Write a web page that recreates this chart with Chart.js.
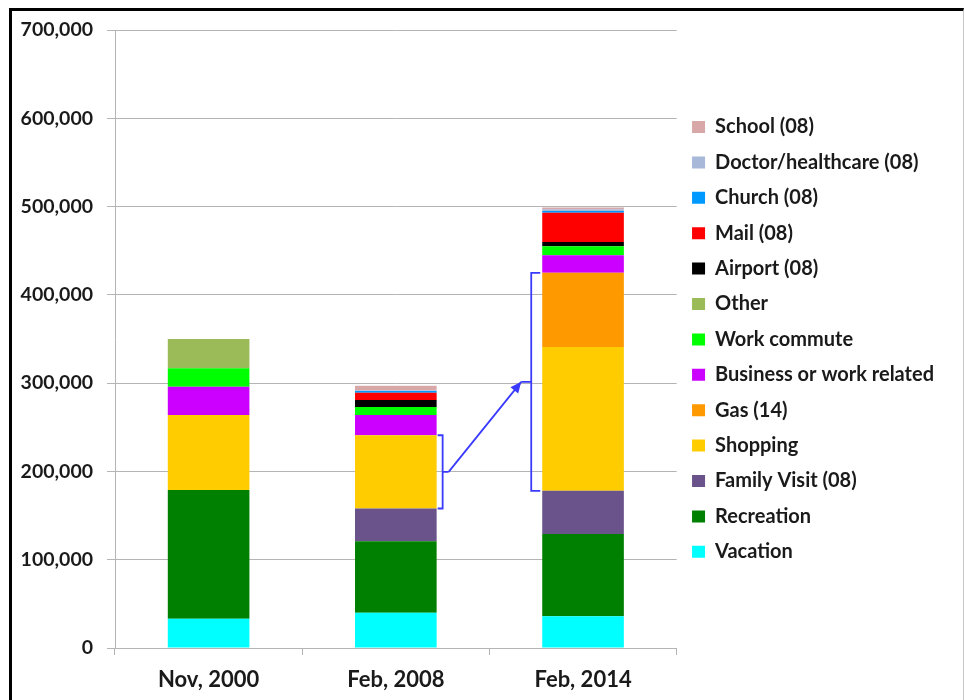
<!DOCTYPE html>
<html>
<head>
<meta charset="utf-8">
<script src="https://cdn.jsdelivr.net/npm/chart.js@4/dist/chart.umd.min.js"></script>
<style>
  html, body { margin: 0; padding: 0; background: #fff; }
  #wrap { position: absolute; left: 0; top: 0; width: 964px; height: 700px; }
  #frame { position: absolute; left: 9px; top: 8px; width: 951px; height: 700px;
           border-left: 3px solid #000; border-top: 3px solid #000; border-right: 1px solid #c8c8c8;
           pointer-events: none; }
</style>
</head>
<body>
<div id="wrap">
  <canvas id="viajesChart" width="964" height="700"></canvas>
  <div id="frame"></div>
</div>
<script>
// categorias y series (de abajo hacia arriba en la pila)
const categorias = ['Nov, 2000', 'Feb, 2008', 'Feb, 2014'];

const vacation     = [33000, 40000, 36000];
const recreation   = [146000, 81000, 93000];
const familyVisit  = [null, 37000, 49000];
const shopping     = [85000, 83000, 163000];
const gas          = [null, null, 84000];
const business     = [32000, 23000, 20000];
const workCommute  = [21000, 9000, 10000];
const other        = [33000, null, null];
const airport      = [null, 8000, 5000];
const mail         = [null, 8000, 33000];
const church       = [null, 2000, 2000];
const doctor       = [null, 1000, 2000];
const school       = [null, 5000, 2000];

const yTicks = [0, 100000, 200000, 300000, 400000, 500000, 600000, 700000];

const series = [
    { label: 'Vacation', data: vacation, color: '#00ffff' },
    { label: 'Recreation', data: recreation, color: '#008000' },
    { label: 'Family Visit (08)', data: familyVisit, color: '#69538a' },
    { label: 'Shopping', data: shopping, color: '#ffcc00' },
    { label: 'Gas (14)', data: gas, color: '#ff9900' },
    { label: 'Business or work related', data: business, color: '#cc00ff' },
    { label: 'Work commute', data: workCommute, color: '#00ff00' },
    { label: 'Other', data: other, color: '#9bbb59' },
    { label: 'Airport (08)', data: airport, color: '#000000' },
    { label: 'Mail (08)', data: mail, color: '#ff0000' },
    { label: 'Church (08)', data: church, color: '#0099ff' },
    { label: 'Doctor/healthcare (08)', data: doctor, color: '#a8b8d8' },
    { label: 'School (08)', data: school, color: '#d8a8a8' }
];

// corchetes y flecha azules entre 2008 y 2014
const corchetes = {
    id: 'corchetes',
    afterDatasetsDraw(chart) {
        const ctx = chart.ctx;
        const shopMeta = chart.getDatasetMeta(3);
        const gasMeta = chart.getDatasetMeta(4);
        const b1 = shopMeta.data[1];
        const b2 = shopMeta.data[2];
        const g2 = gasMeta.data[2];

        ctx.save();
        ctx.strokeStyle = '#3a3aff';
        ctx.fillStyle = '#3a3aff';
        ctx.lineWidth = 1.8;

        // corchete derecho de la barra 2008
        const r1 = b1.x + b1.width / 2;
        const v1 = r1 + 6;
        const top1 = b1.y, bot1 = b1.base;
        const mid1 = (top1 + bot1) / 2;
        ctx.beginPath();
        ctx.moveTo(r1 + 1, top1);
        ctx.lineTo(v1, top1);
        ctx.lineTo(v1, bot1);
        ctx.lineTo(r1 + 1, bot1);
        ctx.moveTo(v1, mid1);
        ctx.lineTo(v1 + 6, mid1);
        ctx.stroke();

        // corchete izquierdo de la barra 2014
        const l2 = b2.x - b2.width / 2;
        const v2 = l2 - 11;
        const top2 = g2.y, bot2 = b2.base;
        const mid2 = (top2 + bot2) / 2;
        ctx.beginPath();
        ctx.moveTo(l2 - 2, top2);
        ctx.lineTo(v2, top2);
        ctx.lineTo(v2, bot2);
        ctx.lineTo(l2 - 2, bot2);
        ctx.moveTo(v2, mid2);
        ctx.lineTo(v2 - 10, mid2);
        ctx.stroke();

        // flecha
        const x0 = v1 + 6, y0 = mid1, x1 = v2 - 10, y1 = mid2;
        ctx.beginPath();
        ctx.moveTo(x0, y0);
        ctx.lineTo(x1, y1);
        ctx.stroke();
        const ang = Math.atan2(y1 - y0, x1 - x0);
        const len = 11, w = 5;
        ctx.beginPath();
        ctx.moveTo(x1, y1);
        ctx.lineTo(x1 - len * Math.cos(ang) + w * Math.sin(ang), y1 - len * Math.sin(ang) - w * Math.cos(ang));
        ctx.lineTo(x1 - len * Math.cos(ang) - w * Math.sin(ang), y1 - len * Math.sin(ang) + w * Math.cos(ang));
        ctx.closePath();
        ctx.fill();
        ctx.restore();
    }
};

function dibujarGrafico() {
    const ctx = document.getElementById('viajesChart').getContext('2d');
    new Chart(ctx, {
        type: 'bar',
        data: {
            labels: categorias,
            datasets: series.map(s => ({
                label: s.label,
                data: s.data,
                backgroundColor: s.color,
                borderWidth: 0,
                barPercentage: 0.436,
                categoryPercentage: 1
            }))
        },
        options: {
            responsive: false,
            animation: false,
            layout: { padding: { top: 30, right: 20, bottom: 0, left: 0 } },
            plugins: {
                tooltip: { enabled: false },
                legend: {
                    position: 'right',
                    align: 'start',
                    reverse: true,
                    maxWidth: 320,
                    // titulo vacio solo para bajar la leyenda
                    title: { display: true, text: ' ', font: { size: 12 }, padding: { top: 28.6, bottom: 28.6 } },
                    labels: {
                        boxWidth: 13,
                        boxHeight: 12,
                        padding: 15.4,
                        color: '#1a1a1a',
                        font: { family: 'Lato', weight: 'bold', size: 20 }
                    }
                }
            },
            scales: {
                x: {
                    stacked: true,
                    grid: { display: true, drawOnChartArea: false, color: '#b4b4b4', tickLength: 7 },
                    border: { color: '#b4b4b4' },
                    ticks: {
                        color: '#1a1a1a',
                        padding: 12,
                        font: { family: 'Lato', weight: 'bold', size: 22 }
                    },
                    afterFit(scale) { scale.height = 52; }
                },
                y: {
                    stacked: true,
                    min: 0,
                    max: 700000,
                    afterBuildTicks(scale) { scale.ticks = yTicks.map(v => ({ value: v })); },
                    grid: { color: '#b4b4b4', tickLength: 8 },
                    border: { color: '#b4b4b4' },
                    ticks: {
                        color: '#1a1a1a',
                        padding: 14,
                        font: { family: 'Lato', weight: 'bold', size: 19.5 },
                        callback: v => v.toLocaleString('en-US')
                    },
                    afterFit(scale) { scale.width = 115; }
                }
            }
        },
        plugins: [corchetes]
    });
}

// esperar a que la fuente este lista antes de medir la leyenda
Promise.all([
    document.fonts.load('bold 20px Lato'),
    document.fonts.load('bold 22px Lato')
]).then(dibujarGrafico, dibujarGrafico);
</script>
</body>
</html>
